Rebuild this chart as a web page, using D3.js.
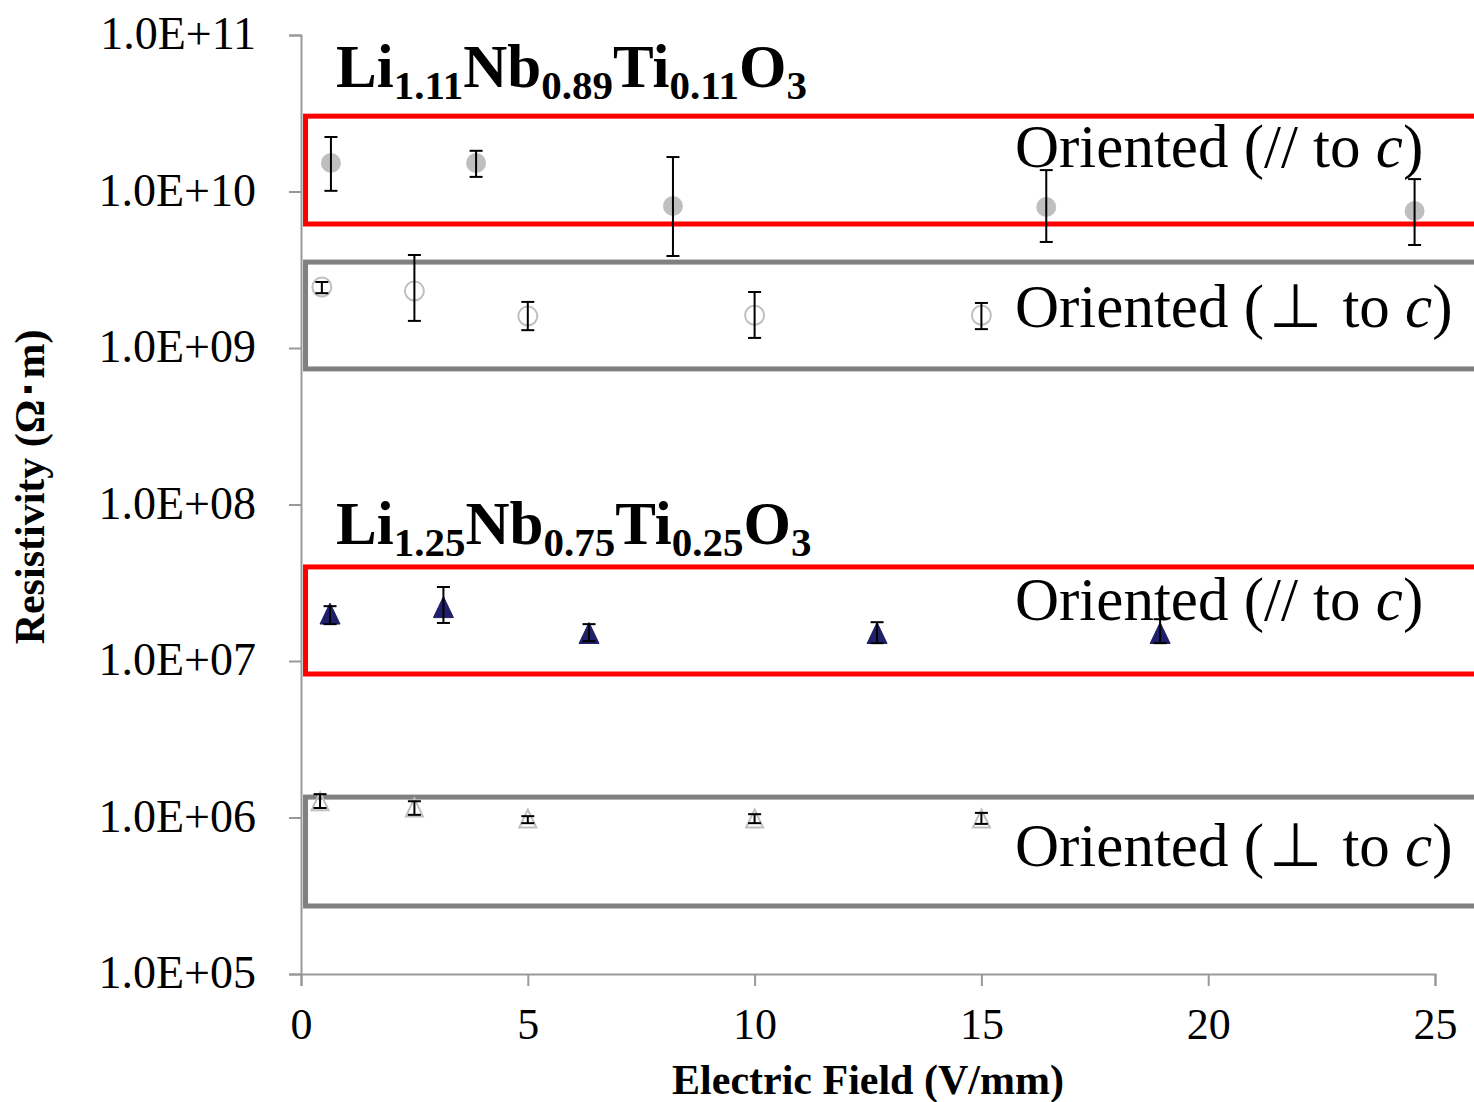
<!DOCTYPE html>
<html>
<head>
<meta charset="utf-8">
<script src="https://cdn.jsdelivr.net/npm/d3@7"></script>
<style>
    body { margin: 0; background: #fff; }
    svg { display: block; font-family: "Liberation Serif", "Times New Roman", serif; }
</style>
</head>
<body>
<svg id="chart" width="1474" height="1102"></svg>
<script>
// tick values
var xTicks = [0, 5, 10, 15, 20, 25];
var yTicks = [1e5, 1e6, 1e7, 1e8, 1e9, 1e10, 1e11];

// Li1.11Nb0.89Ti0.11O3, oriented // to c (filled grey circles)
var fieldA = [0.66, 3.86, 8.2, 16.43, 24.55];
var rhoA = [1.52e10, 1.52e10, 8.08e9, 7.96e9, 7.5e9];
var hiA = [2.23e10, 1.82e10, 1.66e10, 1.37e10, 1.2e10];
var loA = [1.01e10, 1.24e10, 3.87e9, 4.76e9, 4.55e9];

// Li1.11Nb0.89Ti0.11O3, oriented perp to c (open circles)
var fieldB = [0.46, 2.5, 5.0, 10.0, 15.0];
var rhoB = [2.45e9, 2.31e9, 1.6e9, 1.62e9, 1.62e9];
var hiB = [2.64e9, 3.93e9, 1.97e9, 2.28e9, 1.94e9];
var loB = [2.24e9, 1.49e9, 1.3e9, 1.16e9, 1.32e9];

// Li1.25Nb0.75Ti0.25O3, oriented // to c (navy triangles)
var fieldC = [0.64, 3.14, 6.35, 12.7, 18.94];
var rhoC = [2.01e7, 2.21e7, 1.51e7, 1.51e7, 1.51e7];
var hiC = [2.24e7, 2.97e7, 1.72e7, 1.77e7, 1.85e7];
var loC = [1.72e7, 1.75e7, 1.34e7, 1.3e7, 1.3e7];

// Li1.25Nb0.75Ti0.25O3, oriented perp to c (open triangles)
var fieldD = [0.42, 2.5, 5.0, 10.0, 15.0];
var rhoD = [1.27e6, 1.16e6, 0.985e6, 0.985e6, 0.985e6];
var hiD = [1.41e6, 1.27e6, 1.02e6, 1.05e6, 1.07e6];
var loD = [1.15e6, 1.04e6, 0.92e6, 0.92e6, 0.91e6];

// annotation boxes (resistivity range)
var boxTop = [3.03e10, 3.54e9, 3.99e7, 1.35e6];
var boxBottom = [6.2e9, 7.35e8, 8.26e6, 2.72e5];
var boxColor = ["#ff0000", "#808080", "#ff0000", "#808080"];
var boxPerp = [false, true, false, true];

var width = 1474,
    height = 1102,
    margin = { top: 35, right: 39, bottom: 128, left: 301 },
    tickLen = 12,
    barCap = 6.5;

var svg = d3.select("#chart");

var x = d3.scaleLinear()
    .domain([0, 25])
    .range([margin.left, width - margin.right]);

var y = d3.scaleLog()
    .domain([1e5, 1e11])
    .range([height - margin.bottom, margin.top]);

function fmtExp(d) {
    var e = Math.round(Math.log10(d));
    return "1.0E+" + (e < 10 ? "0" + e : e);
}

// triangle a bit taller than wide, centred on its box like Excel's marker
function triangle(w, h) {
    return "M0," + (-h / 2) + "L" + (w / 2) + "," + (h / 2) + "L" + (-w / 2) + "," + (h / 2) + "Z";
}

function drawAxes() {
    var yAxis = svg.append("g")
        .attr("transform", "translate(" + margin.left + ",0)")
        .call(d3.axisLeft(y)
            .tickValues(yTicks)
            .tickFormat(fmtExp)
            .tickSize(tickLen)
            .tickPadding(33));
    yAxis.selectAll("text")
        .attr("dy", "0.3em")
        .style("font-size", "46px")
        .style("font-family", "Liberation Serif, Times New Roman, serif")
        .style("fill", "#000");

    var xAxis = svg.append("g")
        .attr("transform", "translate(0," + (height - margin.bottom) + ")")
        .call(d3.axisBottom(x)
            .tickValues(xTicks)
            .tickSize(tickLen)
            .tickPadding(22));
    xAxis.selectAll("text")
        .style("font-size", "44px")
        .style("font-family", "Liberation Serif, Times New Roman, serif")
        .style("fill", "#000");

    svg.selectAll(".domain, .tick line")
        .attr("stroke", "#999")
        .attr("stroke-width", 2);

    svg.append("text")
        .attr("x", (margin.left + width - margin.right) / 2)
        .attr("y", 1094)
        .attr("text-anchor", "middle")
        .style("font-size", "42px")
        .style("font-weight", "bold")
        .text("Electric Field (V/mm)");

    svg.append("text")
        .attr("transform", "translate(44,487) rotate(-90)")
        .attr("text-anchor", "middle")
        .style("font-size", "42px")
        .style("font-weight", "bold")
        .text("Resistivity (\u03A9\uFF65m)");
}

function drawBoxes() {
    var boxLeft = x(0.1);
    boxTop.forEach(function(top, i) {
        var y0 = y(top),
            y1 = y(boxBottom[i]);
        svg.append("rect")
            .attr("x", boxLeft)
            .attr("y", y0)
            .attr("width", width + 20 - boxLeft)
            .attr("height", y1 - y0)
            .style("fill", "none")
            .style("stroke", boxColor[i])
            .style("stroke-width", 5);

        // label offsets
        var dy = [51, 65, 53, 69][i];
        var label = svg.append("text")
            .attr("x", 1015)
            .attr("y", y0 + dy)
            .style("font-size", "61px");
        label.append("tspan").text(boxPerp[i] ? "Oriented (\u200A\u22A5\u200A to " : "Oriented (// to ");
        label.append("tspan").style("font-style", "italic").text("c");
        label.append("tspan").text(")");
    });
}

function drawFormula(parts, xPos, baseline) {
    var t = svg.append("text")
        .attr("x", xPos)
        .attr("y", baseline)
        .style("font-weight", "bold");
    parts.forEach(function(p, i) {
        var sub = i % 2 == 1;
        t.append("tspan")
            .attr("dy", i == 0 ? 0 : (sub ? 12 : -12))
            .style("font-size", sub ? "41px" : "61px")
            .text(p);
    });
}

function drawErrorBars(xs, hi, lo) {
    var g = svg.append("g")
        .style("stroke", "#000")
        .style("stroke-width", 2);
    xs.forEach(function(v, i) {
        var cx = x(v),
            yh = y(hi[i]),
            yl = y(lo[i]);
        g.append("line").attr("x1", cx).attr("x2", cx).attr("y1", yh).attr("y2", yl);
        g.append("line").attr("x1", cx - barCap).attr("x2", cx + barCap).attr("y1", yh).attr("y2", yh);
        g.append("line").attr("x1", cx - barCap).attr("x2", cx + barCap).attr("y1", yl).attr("y2", yl);
    });
}

function drawCircles(xs, ys, filled) {
    svg.append("g")
        .selectAll("circle")
        .data(xs)
        .join("circle")
        .attr("cx", function(d) { return x(d); })
        .attr("cy", function(d, i) { return y(ys[i]); })
        .attr("r", filled ? 10 : 9.5)
        .style("fill", filled ? "#bfbfbf" : "none")
        .style("stroke", filled ? "none" : "#bfbfbf")
        .style("stroke-width", 2);
}

function drawTriangles(xs, ys, filled) {
    svg.append("g")
        .selectAll("path")
        .data(xs)
        .join("path")
        .attr("d", filled ? triangle(20, 21) : triangle(17, 18))
        .attr("transform", function(d, i) {
            return "translate(" + x(d) + "," + y(ys[i]) + ")";
        })
        .style("fill", filled ? "#20206a" : "none")
        .style("stroke", filled ? "#20206a" : "#bfbfbf")
        .style("stroke-width", filled ? 1 : 2)
        .style("stroke-linejoin", "miter");
}

drawAxes();
drawBoxes();

drawFormula(["Li", "1.11", "Nb", "0.89", "Ti", "0.11", "O", "3"], 336, 87);
drawFormula(["Li", "1.25", "Nb", "0.75", "Ti", "0.25", "O", "3"], 336, 544);

drawCircles(fieldA, rhoA, true);
drawErrorBars(fieldA, hiA, loA);
drawCircles(fieldB, rhoB, false);
drawErrorBars(fieldB, hiB, loB);
drawTriangles(fieldC, rhoC, true);
drawErrorBars(fieldC, hiC, loC);
drawTriangles(fieldD, rhoD, false);
drawErrorBars(fieldD, hiD, loD);
</script>
</body>
</html>
